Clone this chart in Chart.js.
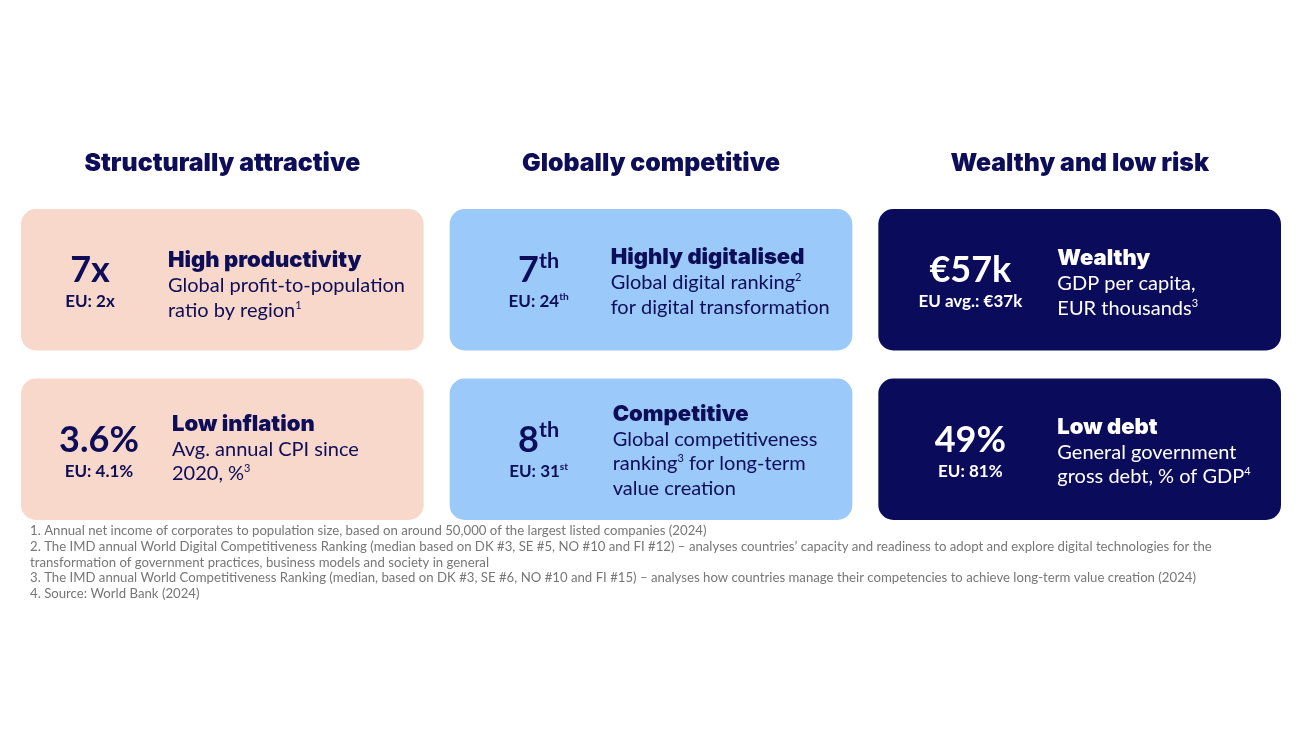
<!DOCTYPE html>
<html>
<head>
<meta charset="utf-8">
<script src="https://cdn.jsdelivr.net/npm/chart.js@4.4.1/dist/chart.umd.min.js"></script>
<style>
  html, body { margin: 0; padding: 0; background: #ffffff; }
  #wrap { width: 1300px; height: 731px; position: relative; }
</style>
</head>
<body>
<div id="wrap"><canvas id="cards"></canvas></div>
<script>
// column headings
const themes = ['Structurally attractive', 'Globally competitive', 'Wealthy and low risk'];
// each card row is a floating bar spanning one band of the value axis
const cardRows = [[1, 2], [0, 1]];
// card contents, top row then bottom row; {..} = superscript
const bigValue = ['7x', '7{th}', '€57k', '3.6%', '8{th}', '49%'];
const euValue = ['EU: 2x', 'EU: 24{th}', 'EU avg.: €37k', 'EU: 4.1%', 'EU: 31{st}', 'EU: 81%'];
const cardTitle = ['High productivity', 'Highly digitalised', 'Wealthy', 'Low inflation', 'Competitive', 'Low debt'];
const cardText = [
  ['Global profit-to-population', 'ratio by region{1}'],
  ['Global digital ranking{2}', 'for digital transformation'],
  ['GDP per capita,', 'EUR thousands{3}'],
  ['Avg. annual CPI since', '2020, %{3}'],
  ['Global competitiveness', 'ranking{3} for long-term', 'value creation'],
  ['General government', 'gross debt, % of GDP{4}']
];
const footnotes = [
  '1. Annual net income of corporates to population size, based on around 50,000 of the largest listed companies (2024)',
  '2. The IMD annual World Digital Competitiveness Ranking (median based on DK #3, SE #5, NO #10 and FI #12) – analyses countries’ capacity and readiness to adopt and explore digital technologies for the',
  'transformation of government practices, business models and society in general',
  '3. The IMD annual World Competitiveness Ranking (median, based on DK #3, SE #6, NO #10 and FI #15) – analyses how countries manage their competencies to achieve long-term value creation (2024)',
  '4. Source: World Bank (2024)'
];

const colFill = ['#f8d8ca', '#9ac9fa', '#0b0b5b'];
const colInk = ['#0d0d58', '#0d0d58', '#ffffff'];
const FONT = 'Lato, "Open Sans", sans-serif';
const HEAVY = 'Inter, Lato, sans-serif';

// per-card placement inside the card (px from card left / top)
const valueCx = [69, 89, 92, 78, 89, 92];
const textX = [147, 161, 179, 151, 163, 179];
const titleY = [58, 55, 56, 52, 42, 55];

function font(w, s, fam) { return w + ' ' + s + 'px ' + (fam || FONT); }

// draws text with {sup} parts, returns width
function rich(c, txt, x, y, size, weight, align, fam, supScale) {
  const sc = supScale || 0.6;
  const parts = txt.split(/\{([^}]*)\}/);
  let w = 0;
  parts.forEach((p, i) => {
    c.font = font(weight, i % 2 ? size * sc : size, fam);
    w += c.measureText(p).width;
  });
  let cx = align === 'center' ? x - w / 2 : x;
  c.textAlign = 'left';
  c.textBaseline = 'alphabetic';
  parts.forEach((p, i) => {
    const sup = i % 2 === 1;
    c.font = font(weight, sup ? size * sc : size, fam);
    c.fillText(p, cx, sup ? y - size * 0.4 : y);
    cx += c.measureText(p).width;
  });
  return w;
}

const cardTextPlugin = {
  id: 'cardText',
  afterDatasetsDraw(chart) {
    const c = chart.ctx;
    c.save();
    chart.data.datasets.forEach((ds, row) => {
      chart.getDatasetMeta(row).data.forEach((bar, col) => {
        const p = bar.getProps(['x', 'y', 'base', 'width'], true);
        const left = p.x - p.width / 2 + 13;
        const top = Math.min(p.y, p.base) + 14;
        const k = row * 3 + col;
        c.fillStyle = colInk[col];
        rich(c, bigValue[k], left + valueCx[k], top + 73, 36, 700, 'center');
        rich(c, euValue[k], left + valueCx[k], top + 98, 17, 700, 'center');
        const ty = top + titleY[k];
        rich(c, cardTitle[k], left + textX[k], ty, 22, 900, 'left', HEAVY);
        cardText[k].forEach((line, j) => {
          rich(c, line, left + textX[k], ty + 25 + j * 24.5, 20, 400, 'left', FONT, 0.55);
        });
      });
    });
    // headings above each column
    const xs = chart.scales.x;
    c.fillStyle = '#0d0d58';
    themes.forEach((t, i) => {
      rich(c, t, xs.getPixelForValue(i), 171, 24.8, 900, 'center', HEAVY);
    });
    // footnotes
    c.fillStyle = '#777777';
    footnotes.forEach((f, i) => {
      const yy = [535, 551, 567, 582, 598][i];
      rich(c, f, 30, yy, 13.2, 400, 'left');
    });
    c.restore();
  }
};

const ctx = document.getElementById('cards').getContext('2d');
const chart = new Chart(ctx, {
  type: 'bar',
  data: {
    labels: themes,
    datasets: cardRows.map((r, i) => ({
      label: 'row ' + (i + 1),
      data: themes.map(() => r),
      backgroundColor: colFill,
      borderColor: '#ffffff',
      borderWidth: { top: 14, bottom: 14, left: 13, right: 13 },
      borderRadius: 29,
      borderSkipped: false,
      grouped: false,
      barPercentage: 1,
      categoryPercentage: 1,
      inflateAmount: 0
    }))
  },
  options: {
    responsive: true,
    maintainAspectRatio: false,
    animation: false,
    events: [],
    layout: { padding: { top: 195, bottom: 197, left: 8, right: 6 } },
    scales: {
      x: { display: false },
      y: { display: false, min: 0, max: 2 }
    },
    plugins: {
      legend: { display: false },
      tooltip: { enabled: false }
    }
  },
  plugins: [cardTextPlugin]
});
</script>
</body>
</html>
